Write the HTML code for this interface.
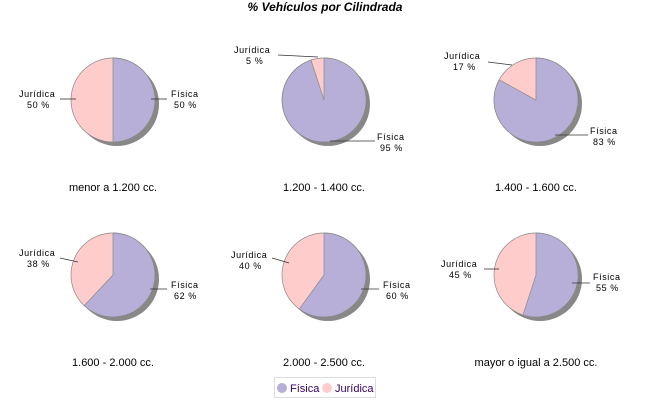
<html><body style="margin:0;background:#fff">
<svg width="650" height="400" xmlns="http://www.w3.org/2000/svg" font-family="Liberation Sans, sans-serif">
<rect width="650" height="400" fill="#fff"/>
<text x="325" y="11" text-anchor="middle" font-size="12" font-weight="bold" font-style="italic">% Vehículos por Cilindrada</text>
<g stroke="#888" stroke-width="0.7">
<!-- shadows -->
<g fill="#888" stroke="none">
<circle cx="117" cy="104" r="42"/><circle cx="328" cy="104" r="42"/><circle cx="540" cy="104" r="42"/>
<circle cx="117" cy="279" r="42"/><circle cx="328" cy="279" r="42"/><circle cx="540" cy="279" r="42"/>
</g>
<circle cx="113" cy="100" r="42" fill="#ffcccc"/><path d="M113,100 L113,58 A42,42 0 0 1 113,142 Z" fill="#b8afd8"/>
<circle cx="324" cy="100" r="42" fill="#ffcccc"/><path d="M324,100 L324,58 A42,42 0 1 1 311,60.1 Z" fill="#b8afd8"/>
<circle cx="536" cy="100" r="42" fill="#ffcccc"/><path d="M536,100 L536,58 A42,42 0 1 1 499.2,79.8 Z" fill="#b8afd8"/>
<circle cx="113" cy="275" r="42" fill="#ffcccc"/><path d="M113,275 L113,233 A42,42 0 1 1 84.2,305.6 Z" fill="#b8afd8"/>
<circle cx="324" cy="275" r="42" fill="#ffcccc"/><path d="M324,275 L324,233 A42,42 0 1 1 299.3,309 Z" fill="#b8afd8"/>
<circle cx="536" cy="275" r="42" fill="#ffcccc"/><path d="M536,275 L536,233 A42,42 0 1 1 523,314.9 Z" fill="#b8afd8"/>
</g>
<g stroke="#333" stroke-width="0.8">
<line x1="60" y1="99" x2="76" y2="99"/><line x1="151" y1="99" x2="167" y2="99"/>
<line x1="278" y1="55" x2="318" y2="57"/><line x1="330" y1="141" x2="375" y2="141"/>
<line x1="488" y1="62" x2="512" y2="65"/><line x1="555" y1="135" x2="588" y2="135"/>
<line x1="60" y1="258" x2="78" y2="262"/><line x1="150" y1="289" x2="167" y2="289"/>
<line x1="272" y1="258" x2="289" y2="263"/><line x1="361" y1="289" x2="379" y2="289"/>
<line x1="484" y1="269" x2="499" y2="269"/><line x1="572" y1="283" x2="590" y2="283"/>
</g>
<g font-size="9" letter-spacing="0.6" fill="#000">
<text x="19" y="97">Jurídica</text><text x="27" y="108">50 %</text>
<text x="171" y="97">Física</text><text x="174" y="108">50 %</text>
<text x="234" y="53">Jurídica</text><text x="246" y="64">5 %</text>
<text x="377" y="140">Física</text><text x="380" y="151">95 %</text>
<text x="444" y="59">Jurídica</text><text x="453" y="70">17 %</text>
<text x="590" y="134">Física</text><text x="593" y="145">83 %</text>
<text x="19" y="256">Jurídica</text><text x="27" y="267">38 %</text>
<text x="171" y="288">Física</text><text x="174" y="299">62 %</text>
<text x="231" y="258">Jurídica</text><text x="239" y="269">40 %</text>
<text x="383" y="288">Física</text><text x="386" y="299">60 %</text>
<text x="441" y="267">Jurídica</text><text x="449" y="278">45 %</text>
<text x="593" y="280">Física</text><text x="596" y="291">55 %</text>
</g>
<g font-size="11" text-anchor="middle">
<text x="113" y="191">menor a 1.200 cc.</text>
<text x="324" y="191">1.200 - 1.400 cc.</text>
<text x="536" y="191">1.400 - 1.600 cc.</text>
<text x="113" y="366">1.600 - 2.000 cc.</text>
<text x="324" y="366">2.000 - 2.500 cc.</text>
<text x="536" y="366">mayor o igual a 2.500 cc.</text>
</g>
<rect x="274.5" y="377.5" width="101" height="20" fill="#fff" stroke="#ddd"/>
<circle cx="282" cy="388" r="5" fill="#b8afd8"/>
<text x="290" y="392" font-size="11" fill="#330066">Física</text>
<circle cx="327" cy="388" r="5" fill="#ffcccc"/>
<text x="335" y="392" font-size="11" fill="#330066">Jurídica</text>
</svg>
</body></html>
